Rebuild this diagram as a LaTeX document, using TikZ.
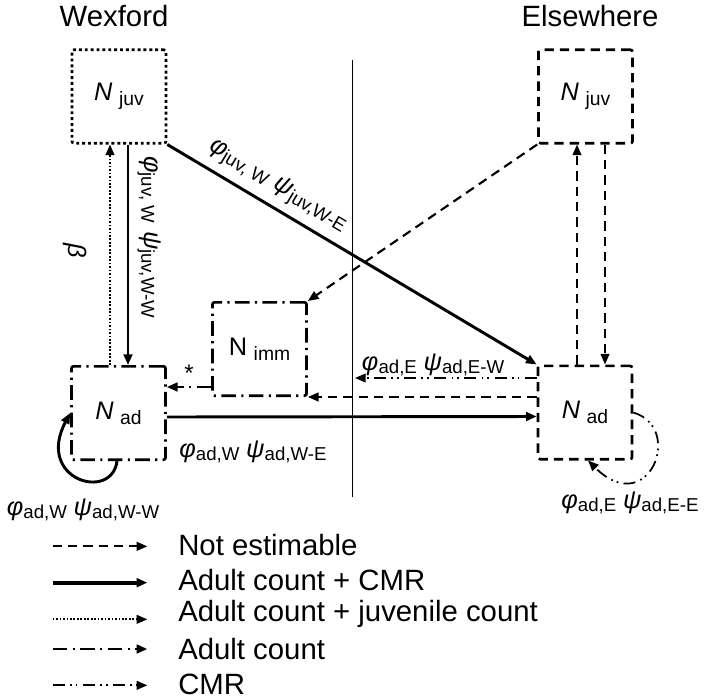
\documentclass[tikz,border=0pt]{standalone}
\usepackage{fontspec}
\setmainfont{Liberation Sans}
\usetikzlibrary{arrows.meta}

\newcommand{\rate}[2]{{\fontsize{19}{19}\selectfont\textit{#1}}\raisebox{-0.45ex}{\fontsize{14}{14}\selectfont #2}}
\newcommand{\popn}[2]{{\fontsize{19}{19}\selectfont #1}\hspace{5pt}\raisebox{-0.7ex}{\fontsize{14.5}{14.5}\selectfont #2}}

\tikzset{
  box/.style={rectangle, draw, minimum width=70.5pt, minimum height=70pt, rounded corners=1.5pt},
  arr/.style={-{Triangle[length=8pt,width=6.5pt]}},
  notest/.style={line width=1.6pt, dash pattern=on 7pt off 4.5pt},
  countcmr/.style={line width=2.2pt},
  juvcount/.style={line width=1.3pt, dash pattern=on 1.3pt off 1.3pt},
  adcount/.style={line width=1.8pt, dash pattern=on 11pt off 4pt on 1.6pt off 4pt},
  cmronly/.style={line width=1.3pt, dash pattern=on 9pt off 4pt on 1.3pt off 3pt on 1.3pt off 4pt},
  lab/.style={inner sep=1pt},
  title/.style={font=\fontsize{22}{22}\selectfont},
}

\begin{document}
\begin{tikzpicture}[x=0.75pt, y=-0.75pt]
\useasboundingbox (0,0) rectangle (709,699);

% sites
\node[title] (wex) at (114,16) {Wexford};
\node[title] (else) at (590,16) {Elsewhere};
\draw[line width=0.6pt] (352,60) -- (352,497);

% populations
\node[box, juvcount, line width=2pt, dash pattern=on 2.2pt off 2.2pt] (wjuv) at (119,96.5) {\popn{\textit{N}}{juv}};
\node[box, notest, line width=2pt] (ejuv) at (585.5,96.5) {\popn{\textit{N}}{juv}};
\node[box, adcount, line width=2pt] (wad) at (118.5,413) {\popn{\textit{N}}{ad}};
\node[box, notest, line width=2pt] (ead) at (585,412.5) {\popn{\textit{N}}{ad}};
\node[box, adcount, line width=2pt] (imm) at (259.5,349) {\popn{N}{imm}};

% juveniles, Wexford
\draw[arr, juvcount] (110,0 |- wad.north) -- (110,0 |- wjuv.south)
  node[pos=0.52, xshift=-26pt, rotate=-90, lab] {\rate{β}{}};
\draw[arr, countcmr] (128,0 |- wjuv.south) -- (128,0 |- wad.north)
  node[pos=0.42, xshift=16pt, rotate=-90, lab] {\rate{φ}{juv, W}\hspace{6pt}\rate{ψ}{juv,W-W}};
\draw[arr, countcmr] (wjuv.south east) -- (ead.north west)
  node[pos=0.27, above=5pt, sloped, lab] {\rate{φ}{juv, W}\hspace{6pt}\rate{ψ}{juv,W-E}};

% juveniles, elsewhere
\draw[arr, notest] (ejuv.south west) -- (imm.north east);
\draw[arr, notest] (577,0 |- ead.north) -- (577,0 |- ejuv.south);
\draw[arr, notest] (605,0 |- ejuv.south) -- (605,0 |- ead.north);

% adults moving
\coordinate (cmrend) at (355,378);
\draw[arr, cmronly] (ead.west |- cmrend) -- (cmrend)
  node[pos=0.57, above=0pt, lab] {\rate{φ}{ad,E}\hspace{5pt}\rate{ψ}{ad,E-W}};
\draw[arr, notest] (ead.west |- imm.south east) -- (imm.south east);
\draw[arr, countcmr] ([yshift=-3pt]wad.east) -- ([yshift=-3pt]ead.west);
\node[lab] (adwe) at (253,452) {\rate{φ}{ad,W}\hspace{5pt}\rate{ψ}{ad,W-E}};
\draw[arr, adcount] (imm.west |- 0,387) -- (wad.east |- 0,387)
  node[midway, above=2pt, lab, font=\fontsize{18}{18}\selectfont] {*};

% staying
\draw[arr, countcmr] (117,0 |- wad.south) .. controls (112,502) and (35,480) .. (wad.west);
\node[lab] (adww) at (83,510) {\rate{φ}{ad,W}\hspace{5pt}\rate{ψ}{ad,W-W}};
\draw[arr, cmronly] (ead.east) .. controls (685,428) and (648,520) .. (588,0 |- ead.south);
\node[lab] (adee) at (630,503) {\rate{φ}{ad,E}\hspace{5pt}\rate{ψ}{ad,E-E}};

% legend
\node[title, anchor=west, inner sep=0] (lgne) at (178,545) {Not estimable};
\node[title, anchor=west, inner sep=0] (lgcmr) at (178,580) {Adult count + CMR};
\node[title, anchor=west, inner sep=0] (lgjuv) at (178,614) {Adult count + juvenile count};
\node[title, anchor=west, inner sep=0] (lgad) at (178,649) {Adult count};
\node[title, anchor=west, inner sep=0] (lgc) at (178,684) {CMR};
\draw[arr, notest] ([xshift=-94pt,yshift=-1pt]lgne.west) -- ([xshift=-23pt,yshift=-1pt]lgne.west);
\draw[arr, countcmr, line width=2.8pt] ([xshift=-94pt,yshift=-2pt]lgcmr.west) -- ([xshift=-23pt,yshift=-2pt]lgcmr.west);
\draw[arr, juvcount] ([xshift=-94pt,yshift=-4pt]lgjuv.west) -- ([xshift=-23pt,yshift=-4pt]lgjuv.west);
\draw[arr, adcount] ([xshift=-94pt]lgad.west) -- ([xshift=-23pt]lgad.west);
\draw[arr, cmronly] ([xshift=-94pt,yshift=-1pt]lgc.west) -- ([xshift=-23pt,yshift=-1pt]lgc.west);
\end{tikzpicture}
\end{document}
